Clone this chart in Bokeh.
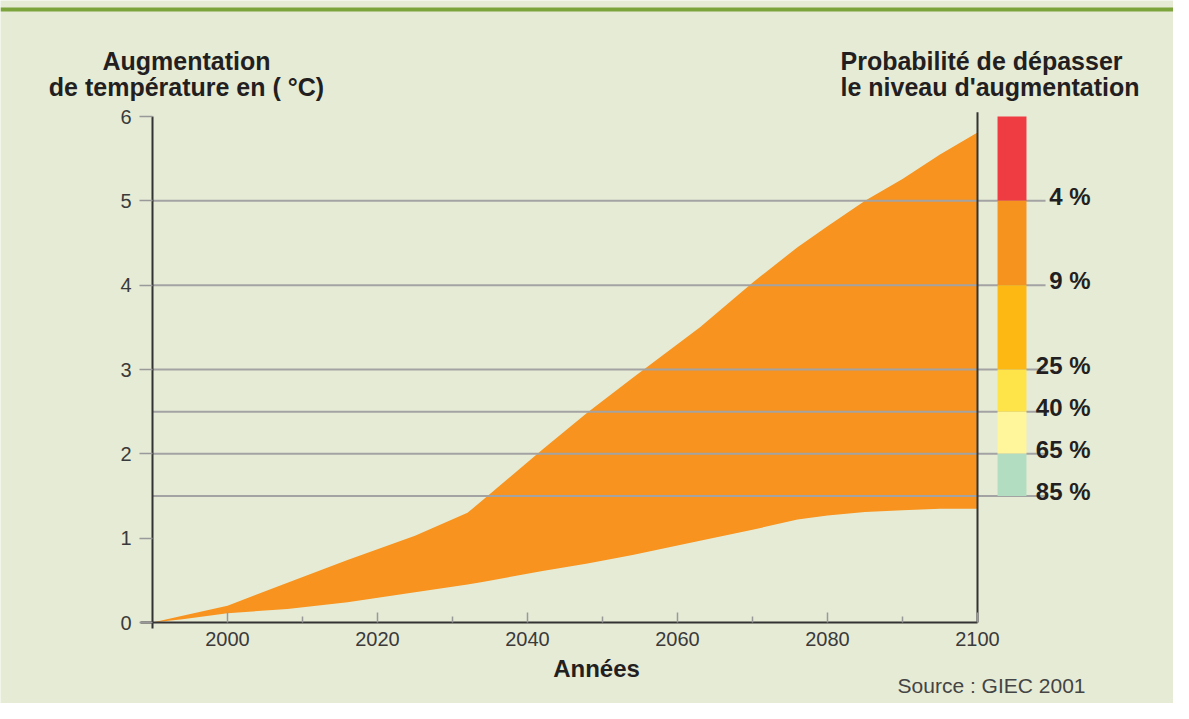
from bokeh.plotting import figure
from bokeh.models import FixedTicker, Range1d
from bokeh.core.properties import value
from bokeh.embed import file_html
from bokeh.resources import INLINE

# ---- data ----
years = [1990, 1994, 2000, 2008, 2016, 2025, 2032, 2034, 2042, 2048, 2054, 2063, 2070, 2076, 2080, 2085, 2090, 2095, 2100]
upper = [0.0, 0.08, 0.20, 0.47, 0.74, 1.03, 1.30, 1.45, 2.05, 2.49, 2.90, 3.50, 4.03, 4.45, 4.70, 5.00, 5.26, 5.55, 5.81]
lower = [0.0, 0.04, 0.11, 0.16, 0.24, 0.36, 0.45, 0.48, 0.61, 0.70, 0.80, 0.97, 1.10, 1.22, 1.27, 1.31, 1.33, 1.35, 1.35]

x_ticks = [2000, 2020, 2040, 2060, 2080, 2100]
x_minor = [2010, 2030, 2050, 2070, 2090]
y_ticks = [0, 1, 2, 3, 4, 5, 6]

levels = [6, 5, 4, 3, 2.5, 2, 1.5]
level_colors = ["#EF3B42", "#F6921E", "#FDB813", "#FFE449", "#FFF59B", "#B3DDC1"]
probs = ["4 %", "9 %", "25 %", "40 %", "65 %", "85 %"]

title_left = ["Augmentation", "de température en ( °C)"]
title_right = ["Probabilité de dépasser", "le niveau d'augmentation"]
x_title = "Années"
source = "Source : GIEC 2001"

BG = "#E6EBD6"
ORANGE = "#F7931E"
FONT = "Liberation Sans"
DARK = "#231F20"
GREY_TXT = "#3A3A3A"
W, H = 1173, 703
PX_YR = 7.5           # pixels per year
PX_UNIT = 506 / 6     # pixels per degree
X0_PX, Y0_PX = 152, 622   # canvas position of (1990, 0)

x_start = 1990 - X0_PX / PX_YR
x_end = 1990 + (W - X0_PX) / PX_YR
y_start = -(H - Y0_PX) / PX_UNIT
y_end = Y0_PX / PX_UNIT

p = figure(width=W, height=H,
           x_range=Range1d(x_start, x_end), y_range=Range1d(y_start, y_end),
           output_backend="svg", toolbar_location=None,
           min_border=0, min_border_left=0, min_border_right=0,
           min_border_top=0, min_border_bottom=0)
p.background_fill_color = BG
p.border_fill_color = BG
p.outline_line_color = None
p.xgrid.visible = False
p.ygrid.visible = False

# heading rule at the very top
p.quad(left=[x_start], right=[x_end], bottom=[7.245], top=[7.292],
       fill_color="#7BA43C", line_color=None)

# band of projected warming
p.varea(x=years, y1=lower, y2=upper, fill_color=ORANGE)

# reference lines at the probability thresholds
bounds = levels[1:]
p.segment(x0=[1990] * len(bounds), y0=bounds, x1=[2109.07] * len(bounds), y1=bounds,
          line_color="#A3A3A3", line_width=2)

# probability bar
p.quad(left=2102.67, right=2106.53, bottom=levels[1:], top=levels[:-1],
       fill_color=level_colors, line_color=None)

p.text(x=[2115.07] * len(probs), y=[b + 0.05 for b in bounds], text=probs,
       text_align="right", text_baseline="alphabetic",
       text_font=value(FONT), text_font_style="bold", text_font_size="24px",
       text_color=DARK)

# axis lines
p.segment(x0=[1988.4], y0=[0], x1=[2100], y1=[0], line_color="#333333", line_width=2)
p.segment(x0=[1990], y0=[-0.07], x1=[1990], y1=[6], line_color="#333333", line_width=2)
p.segment(x0=[2100], y0=[0], x1=[2100], y1=[6.05], line_color="#333333", line_width=2)

# x axis (placed at y = 0)
xa = p.xaxis[0]
xa.fixed_location = 0
xa.ticker = FixedTicker(ticks=x_ticks, minor_ticks=x_minor)
xa.axis_line_alpha = 0
xa.major_tick_in = 10
xa.major_tick_out = 0
xa.minor_tick_in = 6
xa.minor_tick_out = 0
xa.major_tick_line_color = "#999999"
xa.minor_tick_line_color = "#999999"
xa.major_tick_line_width = 1.5
xa.minor_tick_line_width = 1.5
xa.major_label_standoff = 9
xa.major_label_text_font = FONT
xa.major_label_text_font_size = "20px"
xa.major_label_text_color = GREY_TXT

# y axis (placed at x = 1990)
ya = p.yaxis[0]
ya.fixed_location = 1990
ya.ticker = FixedTicker(ticks=y_ticks, minor_ticks=[])
ya.axis_line_alpha = 0
ya.major_tick_in = 0
ya.major_tick_out = 13
ya.major_tick_line_color = "#999999"
ya.major_tick_line_width = 1.5
ya.major_label_standoff = 8
ya.major_label_text_font = FONT
ya.major_label_text_font_size = "20px"
ya.major_label_text_color = GREY_TXT

# titles and captions
p.text(x=[1994.53, 1994.53], y=[6.664, 6.344], text=title_left,
       text_align="center", text_baseline="middle",
       text_font=value(FONT), text_font_style="bold", text_font_size="25px",
       text_color=DARK)
p.text(x=[2081.73, 2081.73], y=[6.664, 6.344], text=title_right,
       text_align="left", text_baseline="middle",
       text_font=value(FONT), text_font_style="bold", text_font_size="25px",
       text_color=DARK)
p.text(x=[2049.2], y=[-0.5455], text=[x_title],
       text_align="center", text_baseline="middle",
       text_font=value(FONT), text_font_style="bold", text_font_size="24px",
       text_color=DARK)
p.text(x=[2114.4], y=[-0.747], text=[source],
       text_align="right", text_baseline="middle",
       text_font=value(FONT), text_font_size="21px",
       text_color="#444444")

open("out.html", "w").write(file_html(p, INLINE))
